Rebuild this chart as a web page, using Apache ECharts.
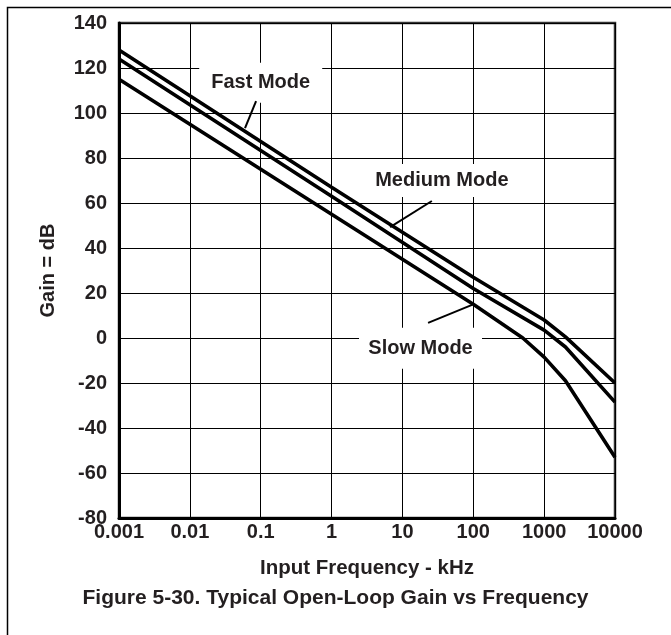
<!DOCTYPE html>
<html>
<head>
<meta charset="utf-8">
<script src="https://cdn.jsdelivr.net/npm/echarts@6/dist/echarts.min.js"></script>
<style>html,body{margin:0;padding:0;background:#fff;}#c{width:671px;height:635px;}</style>
</head>
<body>
<div id="c"></div>
<script>
// Data (frequency in kHz, gain in dB)
var xTickLabels = ['0.001', '0.01', '0.1', '1', '10', '100', '1000', '10000'];
var fastMode = [[0.001, 128], [1, 67], [100, 27], [1000, 8], [2000, 0.5], [10000, -20]];
var mediumMode = [[0.001, 124], [1, 63], [100, 22], [1000, 3.5], [2000, -4], [10000, -28.5]];
var slowMode = [[0.001, 115], [1, 55], [100, 15], [500, 0], [1000, -8.5], [2000, -19], [10000, -53]];
var labelNames = ['Fast Mode', 'Medium Mode', 'Slow Mode'];
var labelAnchors = [[0.1, 113.5], [36, 70], [18, -4.5]];
var leaderStarts = [[0.086, 105.3], [26, 60.9], [23, 6.7]];
var leaderEnds = [[0.060, 93.3], [6.7, 49.3], [96, 14.7]];

var TXT = '#231f20';
var FONT = '"Liberation Sans", Arial, sans-serif';
var chart = echarts.init(document.getElementById('c'), null, {renderer: 'canvas'});

function curve(name, data) {
  return {
    name: name, type: 'line', data: data, symbol: 'none', z: 10,
    lineStyle: {color: '#000', width: 3.6}, animation: false
  };
}

var boxSizes = [[123, 40], [146, 33], [123, 41]];

var option = {
  animation: false,
  backgroundColor: '#fff',
  title: {
    text: 'Figure 5-30. Typical Open-Loop Gain vs Frequency',
    left: 'center', top: 583,
    textStyle: {fontFamily: FONT, fontSize: 21, fontWeight: 'bold', color: TXT}
  },
  graphic: [{
    type: 'rect', left: 5, top: 5, shape: {x: 0, y: 0, width: 800, height: 800},
    style: {fill: null, stroke: '#000', lineWidth: 1.5}, silent: true
  }],
  grid: {
    left: 119, right: 56, top: 23, bottom: 117,
    show: true, borderColor: '#333', borderWidth: 2.5, backgroundColor: 'transparent'
  },
  xAxis: {
    type: 'log', logBase: 10, min: 0.001, max: 10000,
    name: 'Input Frequency - kHz', nameLocation: 'middle', nameGap: 40,
    nameTextStyle: {fontFamily: FONT, fontSize: 20.5, fontWeight: 'bold', color: TXT},
    axisLine: {show: true, onZero: false, lineStyle: {color: '#000', width: 3}},
    axisTick: {show: false},
    splitLine: {show: true, lineStyle: {color: '#000', width: 1}},
    axisLabel: {
      margin: 4, fontFamily: FONT, fontSize: 20, fontWeight: 'bold', color: TXT,
      formatter: function (v) {
        var i = Math.round(Math.log10(v) + 3);
        return xTickLabels[i] !== undefined ? xTickLabels[i] : '';
      }
    }
  },
  yAxis: {
    type: 'value', min: -80, max: 140, interval: 20,
    name: 'Gain = dB', nameLocation: 'middle', nameGap: 61, nameRotate: 90,
    nameTextStyle: {fontFamily: FONT, fontSize: 20, fontWeight: 'bold', color: TXT},
    axisLine: {show: true, lineStyle: {color: '#000', width: 3}},
    axisTick: {show: false},
    splitLine: {show: true, lineStyle: {color: '#000', width: 1}},
    axisLabel: {margin: 12, fontFamily: FONT, fontSize: 20, fontWeight: 'bold', color: TXT}
  },
  series: [
    curve('Fast Mode', fastMode),
    curve('Medium Mode', mediumMode),
    curve('Slow Mode', slowMode),
    {
      name: 'annotations', type: 'line', data: [], z: 3, silent: true,
      markPoint: {
        z: 3, silent: true, animation: false,
        data: labelNames.map(function (n, i) {
          return {
            name: n, coord: labelAnchors[i], symbol: 'rect', symbolSize: boxSizes[i],
            itemStyle: {color: '#fff', borderWidth: 0},
            label: {show: true, position: 'inside', formatter: n,
              fontFamily: FONT, fontSize: 20, fontWeight: 'bold', color: TXT}
          };
        })
      },
      markLine: {
        z: 4, silent: true, animation: false, symbol: 'none',
        label: {show: false},
        lineStyle: {color: '#000', width: 2, type: 'solid'},
        data: leaderStarts.map(function (s, i) {
          return [{coord: s}, {coord: leaderEnds[i]}];
        })
      }
    }
  ]
};
chart.setOption(option);
</script>
</body>
</html>
